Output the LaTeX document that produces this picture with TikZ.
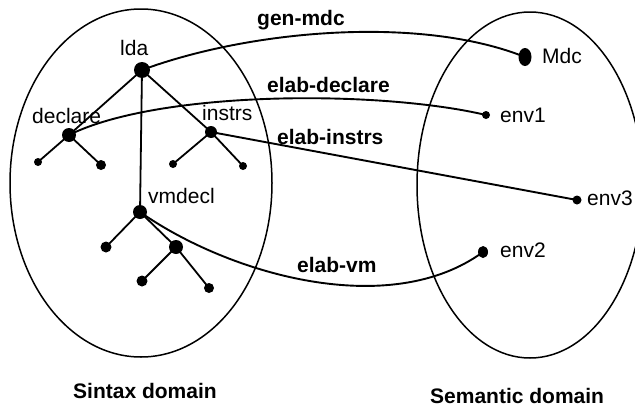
\documentclass[tikz,border=0pt]{standalone}
\usepackage{fontspec}
\setmainfont{Liberation Sans}
\usetikzlibrary{shapes.geometric}
\begin{document}
\begin{tikzpicture}[x=1pt,y=-1pt,
  dot/.style={circle,fill=black,draw=none,inner sep=0pt,minimum size=#1},
  lbl/.style={font=\fontsize{21}{24}\selectfont,inner sep=0pt,anchor=base west},
  blbl/.style={font=\fontsize{21}{24}\selectfont\bfseries,inner sep=0pt,anchor=base west},
  conn/.style={line width=1.9pt},
  treeline/.style={line width=1.8pt},
  dom/.style={line width=1.5pt}]
\useasboundingbox (0,0) rectangle (635,407);
\clip (0,0) rectangle (635,407);
% domains
\draw[dom] (141,183) ellipse [x radius=131, y radius=174];
\draw[dom] (530,185) ellipse [x radius=113, y radius=173];
% syntax tree nodes
\node[dot=16] (lda) at (142,70) {};
\node[dot=14] (declare) at (69,135) {};
\node[dot=12] (instrs) at (211,132) {};
\node[dot=8] (d1) at (38,162) {};
\node[dot=10] (d2) at (101,165) {};
\node[dot=8] (i1) at (173,164) {};
\node[dot=8] (i2) at (243,166) {};
\node[dot=14] (vmdecl) at (140,212) {};
\node[dot=11] (v1) at (106,247) {};
\node[dot=14] (v2) at (176,247) {};
\node[dot=11] (v21) at (142,281) {};
\node[dot=10] (v22) at (209,288) {};
% semantic nodes
\node[ellipse,fill=black,inner sep=0pt,minimum width=13,minimum height=18] (Mdc) at (525,57) {};
\node[dot=8] (env1) at (486,115) {};
\node[dot=9] (env3) at (577,200) {};
\node[ellipse,fill=black,inner sep=0pt,minimum width=10,minimum height=12] (env2) at (483,252) {};
% tree edges
\draw[treeline] (lda.center) -- (declare.center);
\draw[treeline] (lda.center) -- (instrs.center);
\draw[treeline] (lda.center) -- (vmdecl.center);
\draw[treeline] (declare.center) -- (d1.center);
\draw[treeline] (declare.center) -- (d2.center);
\draw[treeline] (instrs.center) -- (i1.center);
\draw[treeline] (instrs.center) -- (i2.center);
\draw[treeline] (vmdecl.center) -- (v1.center);
\draw[treeline] (vmdecl.center) -- (v2.center);
\draw[treeline] (v2.center) -- (v21.center);
\draw[treeline] (v2.center) -- (v22.center);
% mappings
\draw[conn] (lda.center) .. controls (250,30) and (420,15) .. (Mdc.center);
\draw[conn] (declare.center) .. controls (160,90) and (380,90) .. (env1.center);
\draw[conn] (instrs.center) -- (env3.center);
\draw[conn] (vmdecl.center) .. controls (230,275) and (390,320) .. (env2.center);
% labels
\node[lbl] (tlda) at (120,55) {lda};
\node[lbl] (tdeclare) at (32,123) {declare};
\node[lbl] (tinstrs) at (202,120) {instrs};
\node[lbl] (tvmdecl) at (148,203) {vmdecl};
\node[lbl] (tMdc) at (542,63) {Mdc};
\node[lbl] (tenv1) at (500,122) {env1};
\node[lbl] (tenv3) at (587,205) {env3};
\node[lbl] (tenv2) at (500,257) {env2};
\node[blbl] (tgen) at (257,25) {gen-mdc};
\node[blbl] (tedecl) at (267,92) {elab-declare};
\node[blbl] (teinstrs) at (277,144) {elab-instrs};
\node[blbl] (tevm) at (297,272) {elab-vm};
\node[blbl] (tsin) at (73,398) {Sintax domain};
\node[blbl] (tsem) at (430,403) {Semantic domain};
\end{tikzpicture}
\end{document}
